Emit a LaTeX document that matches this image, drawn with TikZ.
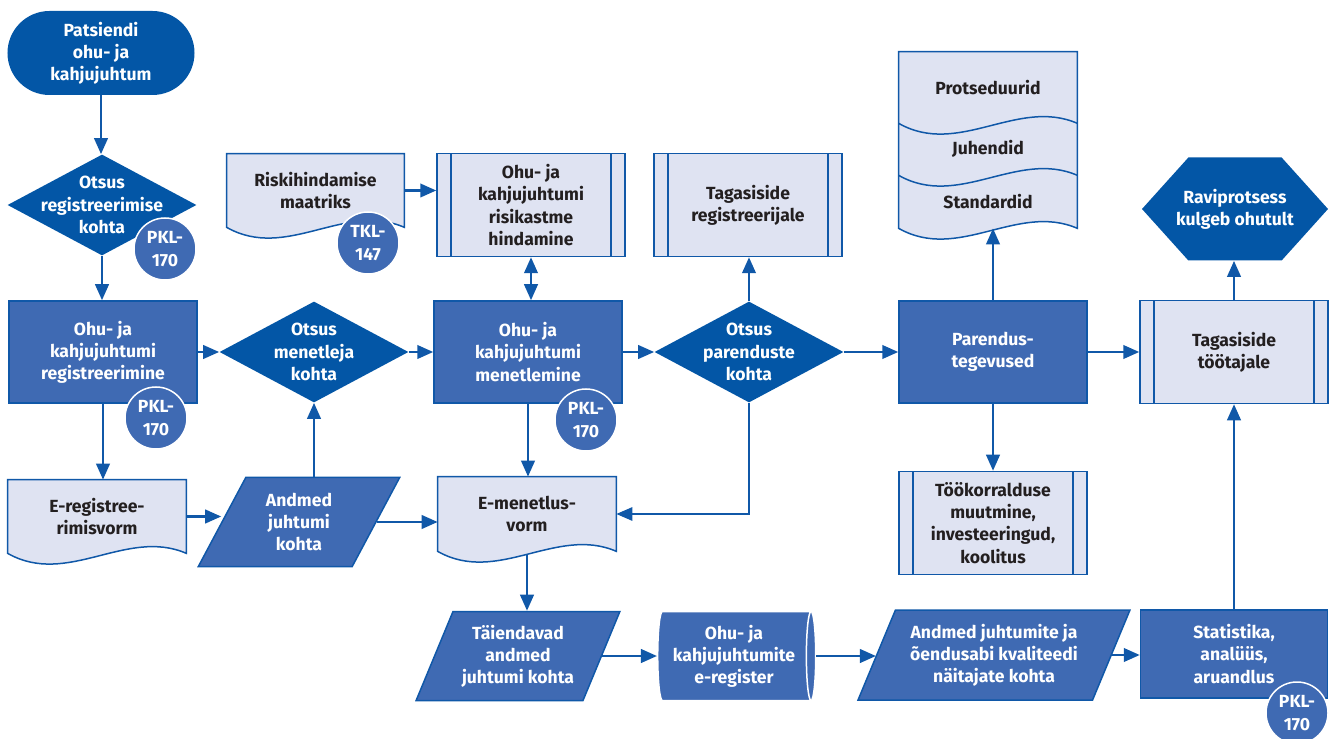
\documentclass[tikz,border=0pt]{standalone}
\usepackage{fontspec}
\setmainfont{Fira Sans}
\usepackage{tikz}
\usetikzlibrary{%
  arrows.meta,%
  backgrounds,%
  shapes.geometric,%
  shapes.misc,%
  shapes.symbols
}
\definecolor{deepblue}{RGB}{3,86,166}
\definecolor{boxblue}{RGB}{63,106,179}
\definecolor{paleblue}{RGB}{223,227,242}
\definecolor{lineblue}{RGB}{16,88,168}
\definecolor{inkgrey}{RGB}{35,31,32}
% wavy lower edge of a document, from right to left
\newcommand{\docwave}[1]{(#1.south east) .. controls +(-60,-26) and +(60,34) .. (#1.south west)}

\begin{document}
\begin{tikzpicture}[x=0.2mm,y=-0.2mm,
    every node/.style={font=\fontsize{10pt}{12.6pt}\selectfont\bfseries,align=center,inner sep=0pt},
    flow/.style={line width=0.5mm,lineblue,-{Triangle[length=3.2mm,width=2.7mm]}},
    thinflow/.style={flow,line width=0.25mm},
    twoway/.style={flow,{Triangle[length=3.2mm,width=2.7mm]}-{Triangle[length=3.2mm,width=2.7mm]}},
    startbox/.style={rounded rectangle,fill=deepblue,text=white,minimum width=37.4mm,minimum height=16.8mm},
    procbox/.style={rectangle,fill=boxblue,draw=lineblue,line width=0.3mm,text=white,minimum width=37.6mm,minimum height=20.4mm},
    predef/.style={rectangle,fill=paleblue,draw=lineblue,line width=0.3mm,text=inkgrey,minimum width=37.6mm,minimum height=20.6mm,
      path picture={\draw [lineblue,line width=0.3mm]
        ([xshift=2.8mm]path picture bounding box.north west) -- ([xshift=2.8mm]path picture bounding box.south west)
        ([xshift=-2.8mm]path picture bounding box.north east) -- ([xshift=-2.8mm]path picture bounding box.south east);}},
    docbox/.style={rectangle,text=inkgrey,minimum width=35.6mm},
    docline/.style={draw=lineblue,line width=0.3mm},
    decision/.style={diamond,fill=deepblue,minimum width=37.8mm,minimum height=20.2mm},
    whitetext/.style={text=white},
    databox/.style={trapezium,trapezium left angle=63,trapezium right angle=117,trapezium stretches=true,fill=boxblue,draw=lineblue,line width=0.3mm,text=white,minimum height=17.8mm},
    store/.style={cylinder,aspect=0.15,cylinder uses custom fill,cylinder body fill=boxblue,cylinder end fill=boxblue,draw=white,line width=0.3mm,text=white,minimum width=17.8mm,minimum height=31.6mm},
    endbox/.style={signal,signal to=east and west,signal pointer angle=96,fill=deepblue,minimum width=37.2mm,minimum height=20.6mm},
    badge/.style={circle,fill=boxblue,draw=white,line width=0.3mm,text=white,minimum size=12.4mm}
  ]
      \useasboundingbox (0,0) rectangle (1334,739);

      \node [startbox] (start) at (101,53) {Patsiendi\\ohu- ja\\kahjujuhtum};
      \node [decision,label={[whitetext]center:Otsus\\registreerimise\\kohta}] (dreg) at (102,205) {};
      \node [procbox] (reg) at (103,352) {Ohu- ja\\kahjujuhtumi\\registreerimine};
      \node [docbox,minimum height=14.6mm] (ereg) at (97,516.5) {E-registree-\\rimisvorm};
      \node [databox,minimum width=40.4mm] (andmed) at (299,522) {Andmed\\juhtumi\\kohta};
      \node [decision,label={[whitetext]center:Otsus\\menetleja\\kohta}] (dmen) at (314,352) {};

      \node [docbox,minimum width=35.4mm,minimum height=14.6mm] (risk) at (315.5,190.5) {Riskihindamise\\maatriks};
      \node [predef] (hind) at (531,205) {Ohu- ja\\kahjujuhtumi\\risikastme\\hindamine};
      \node [procbox] (men) at (528,352) {Ohu- ja\\kahjujuhtumi\\menetlemine};
      \node [docbox,minimum height=14.8mm] (emen) at (527,514) {E-menetlus-\\vorm};
      \node [databox,minimum width=40.8mm] (taiend) at (518,656) {Täiendavad\\andmed\\juhtumi kohta};

      \node [predef] (tagreg) at (748,205) {Tagasiside\\registreerijale};
      \node [decision,label={[whitetext]center:Otsus\\parenduste\\kohta}] (dpar) at (749,352) {};
      \node [store] (cyl) at (734,656) {Ohu- ja\\kahjujuhtumite\\e-register};

      \node [docbox,minimum height=14.2mm] (prot) at (988,87.5) {Protseduurid};
      \node [docbox,minimum height=10.4mm] (juh) at (988,149) {Juhendid};
      \node [docbox,minimum height=10.6mm] (std) at (988,201.5) {Standardid};
      \node [procbox] (parend) at (993,352) {Parendus-\\tegevused};
      \node [predef] (tookorr) at (993,523) {Töökorralduse\\muutmine,\\investeeringud,\\koolitus};
      \node [databox,minimum width=54.4mm,minimum height=18mm] (kval) at (994,655) {Andmed juhtumite ja\\õendusabi kvaliteedi\\näitajate kohta};

      \node [endbox,label={[whitetext]center:Raviprotsess\\kulgeb ohutult}] (hex) at (1235,209) {};
      \node [predef] (tagtoo) at (1234,352) {Tagasiside\\töötajale};
      \node [procbox,minimum width=37.4mm,minimum height=17.6mm] (stat) at (1234,654) {Statistika,\\analüüs,\\aruandlus};

      \begin{scope}[on background layer]
        \filldraw [docline,fill=paleblue] (ereg.north west) -- (ereg.north east) -- \docwave{ereg} -- cycle;
        \filldraw [docline,fill=paleblue] (risk.north west) -- (risk.north east) -- \docwave{risk} -- cycle;
        \filldraw [docline,fill=paleblue] (emen.north west) -- (emen.north east) -- \docwave{emen} -- cycle;
        \filldraw [docline,fill=paleblue] (prot.north west) -- (prot.north east) -- \docwave{std} -- cycle;
        \draw [docline] \docwave{prot} \docwave{juh};
      \end{scope}

      \draw [flow] (start.south) -- (start.south |- dreg.north);
      \draw [flow] (dreg.south) -- (dreg.south |- reg.north);
      \draw [flow] (reg.east) -- (reg.east -| dmen.west);
      \draw [flow] (reg.south) -- (reg.south |- ereg.north);
      \draw [flow] (ereg.east) -- (ereg.east -| andmed.west);
      \draw [flow] (andmed.north -| dmen.south) -- (dmen.south);
      \draw [flow] (andmed.east) -- (andmed.east -| emen.west);
      \draw [flow] (dmen.east) -- (dmen.east -| men.west);
      \draw [flow] (risk.east) -- (risk.east -| hind.west);
      \draw [twoway] (hind.south) -- (hind.south |- men.north);
      \draw [flow] (men.east) -- (men.east -| dpar.west);
      \draw [flow] (dpar.north) -- (dpar.north |- tagreg.south);
      \draw [flow] (men.south) -- (men.south |- emen.north);
      \draw [thinflow] (dpar.south) |- (emen.east);
      \draw [flow] ([yshift=-0.6mm]emen.south) -- (emen.south |- taiend.north);
      \draw [flow] (taiend.east) -- (taiend.east -| cyl.west);
      \draw [flow] (cyl.east) -- (cyl.east -| kval.west);
      \draw [flow] (kval.east) -- (kval.east -| stat.west);
      \draw [flow] (stat.north) -- (stat.north |- tagtoo.south);
      \draw [flow] (dpar.east) -- (dpar.east -| parend.west);
      \draw [flow] (parend.north) -- (parend.north |- std.south);
      \draw [flow] (parend.south) -- (parend.south |- tookorr.north);
      \draw [flow] (parend.east) -- (parend.east -| tagtoo.west);
      \draw [flow] (tagtoo.north) -- (tagtoo.north |- hex.south);

      \node [badge] (pkla) at (165,249) {PKL-\\170};
      \node [badge] (pklb) at (156,418) {PKL-\\170};
      \node [badge] (tkl) at (368,243) {TKL-\\147};
      \node [badge] (pklc) at (586,420) {PKL-\\170};
      \node [badge] (pkld) at (1297,713) {PKL-\\170};
    \end{tikzpicture}
\end{document}
